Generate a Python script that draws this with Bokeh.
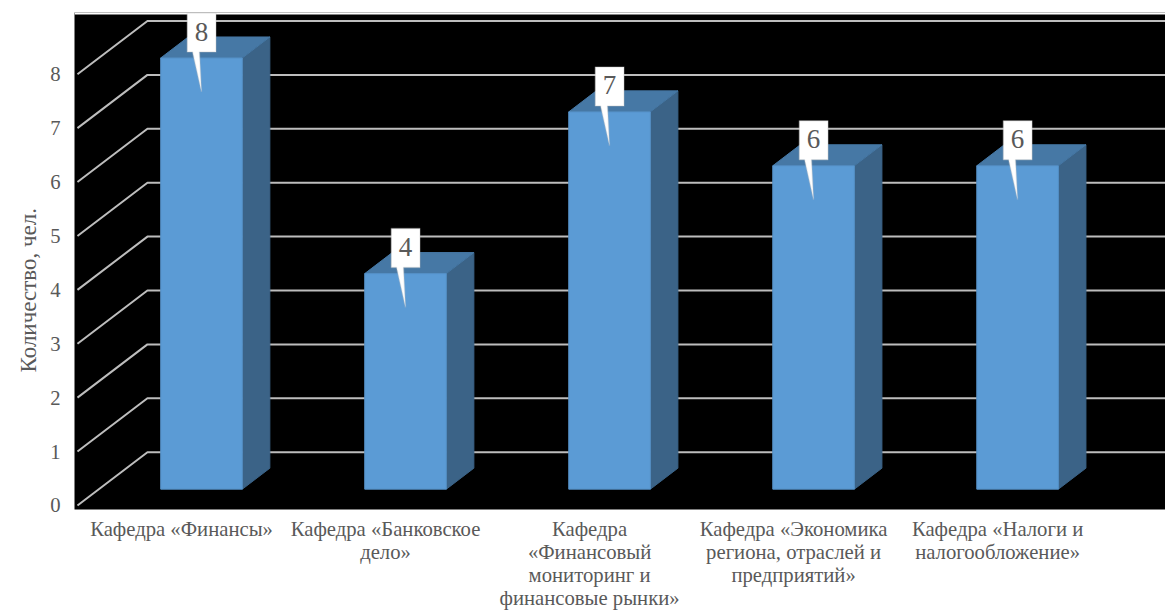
from bokeh.embed import file_html
from bokeh.resources import INLINE
from bokeh.plotting import figure
from bokeh.models import Range1d, LinearAxis, FixedTicker, PolyAnnotation, Label, Title

# ---- data ----
categories = [
    "Кафедра «Финансы»",
    "Кафедра «Банковское\nдело»",
    "Кафедра\n«Финансовый\nмониторинг и\nфинансовые рынки»",
    "Кафедра «Экономика\nрегиона, отраслей и\nпредприятий»",
    "Кафедра «Налоги и\nналогообложение»",
]
values = [8, 4, 7, 6, 6]
y_ticks = [0, 1, 2, 3, 4, 5, 6, 7, 8]
y_title = "Количество, чел."

# ---- pseudo-3D geometry in data units ----
BAR_HALF = 0.2
DX, DY = 0.135, 0.39
X0, X1 = -0.6225, 4.725
Y0, Y1 = -0.377, 8.844
WALL_TOP = 8.807
GRID_LEFT, GRID_BACK = -0.608, -0.265
GRID_FRONT_OFF, GRID_BACK_OFF = -0.302, 0.686
LABEL_SHIFT = 0.098

GREY = "#595959"
FONT = "Liberation Serif"

p = figure(width=1165, height=610, output_backend="svg", toolbar_location=None,
           x_range=Range1d(X0, X1), y_range=Range1d(Y0, Y1),
           x_axis_type=None, y_axis_type=None,
           background_fill_color="#000000", border_fill_color="#ffffff",
           frame_height=497, frame_width=1091,
           min_border_left=74, min_border_right=0, min_border_top=12, min_border_bottom=101)
p.grid.visible = False
p.outline_line_color = None

p.extra_y_ranges["ticks"] = Range1d(Y0 - GRID_FRONT_OFF, Y1 - GRID_FRONT_OFF)
p.extra_x_ranges["cats"] = Range1d(X0 + LABEL_SHIFT, X1 + LABEL_SHIFT)

yax = LinearAxis(y_range_name="ticks", ticker=FixedTicker(ticks=y_ticks))
yax.axis_line_color = None
yax.major_tick_line_color = None
yax.minor_tick_line_color = None
yax.major_tick_out = 0
yax.major_label_standoff = 14
yax.major_label_text_font = FONT
yax.major_label_text_font_size = "20.7px"
yax.major_label_text_color = GREY
p.add_layout(yax, "left")

# empty axis: only a gap between the tick labels and the axis title
gap = LinearAxis(ticker=FixedTicker(ticks=[]))
gap.axis_line_color = None
gap.major_tick_line_color = None
gap.minor_tick_line_color = None
gap.major_tick_in = 0
gap.major_tick_out = 9
gap.major_label_standoff = 0
p.add_layout(gap, "left")

p.add_layout(Title(text=y_title, align="left", offset=137, standoff=9, vertical_align="top",
                   text_font=FONT, text_font_size="23px", text_font_style="normal",
                   text_color=GREY), "left")

xax = LinearAxis(x_range_name="cats", ticker=FixedTicker(ticks=list(range(len(categories)))))
xax.major_label_overrides = {i: c for i, c in enumerate(categories)}
xax.axis_line_color = None
xax.major_tick_line_color = None
xax.minor_tick_line_color = None
xax.major_label_standoff = 2
xax.major_label_text_font = FONT
xax.major_label_text_font_size = "20.7px"
xax.major_label_text_color = GREY
xax.major_label_text_line_height = 1.05
p.add_layout(xax, "below")

# the wall stops just under the top of the frame; the first callout pokes above it
p.quad(left=[X0], right=[X1], bottom=[WALL_TOP], top=[Y1 + 0.1], fill_color="#ffffff", line_color=None)

# gridlines: slanted wall then back line
for t in y_ticks:
    p.line([GRID_LEFT, GRID_BACK, X1], [t + GRID_FRONT_OFF, t + GRID_BACK_OFF, t + GRID_BACK_OFF],
           line_color="#bdbdbd", line_width=2)

# bars
idx = list(range(len(values)))
p.patches(
    [[i + BAR_HALF, i + BAR_HALF + DX, i + BAR_HALF + DX, i + BAR_HALF] for i in idx],
    [[0, DY, v + DY, v] for v in values],
    fill_color="#3b6387", line_color="#3b6387", line_width=1)
p.patches(
    [[i - BAR_HALF, i - BAR_HALF + DX, i + BAR_HALF + DX, i + BAR_HALF] for i in idx],
    [[v, v + DY, v + DY, v] for v in values],
    fill_color="#4678a5", line_color="#4678a5", line_width=1)
p.quad(left=[i - BAR_HALF for i in idx], right=[i + BAR_HALF for i in idx],
       bottom=[0] * len(values), top=values,
       fill_color="#5b9bd5", line_color="#5590c6", line_width=1)

# callout data labels
for i, v in zip(idx, values):
    xs = [i - 0.07, i + 0.071, i + 0.071, i - 0.01, i, i - 0.044, i - 0.07]
    ys = [v + 0.835, v + 0.835, v + 0.111, v + 0.111, v - 0.63, v + 0.111, v + 0.111]
    p.add_layout(PolyAnnotation(xs=xs, ys=ys, fill_color="#ffffff", fill_alpha=1,
                                line_color="#bfbfbf", line_width=1.5, level="overlay"))
    p.add_layout(Label(x=i, y=v + 0.49, text=str(v), text_align="center", text_baseline="middle",
                       text_font=FONT, text_font_size="27px", text_color=GREY, level="overlay"))

open("out.html", "w").write(file_html(p, INLINE))
